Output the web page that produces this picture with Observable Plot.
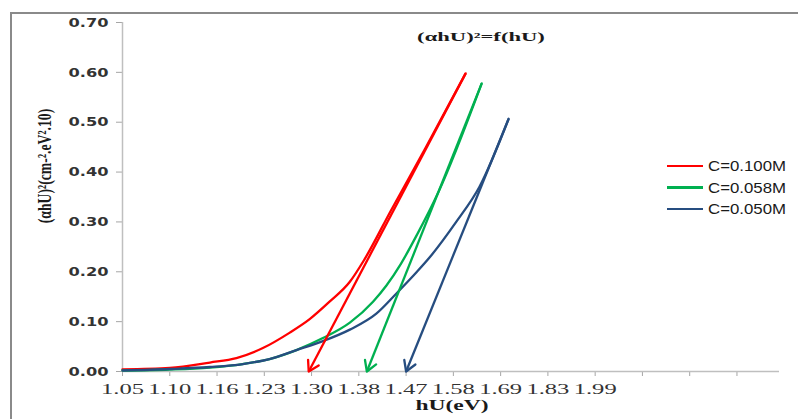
<!DOCTYPE html>
<html><head><meta charset="utf-8">
<script src="https://cdn.jsdelivr.net/npm/d3@7"></script>
<script src="https://cdn.jsdelivr.net/npm/@observablehq/plot@0.6"></script>
<style>
html,body{margin:0;padding:0;background:#fff;overflow:hidden;}
#wrap{position:relative;width:798px;height:419px;overflow:hidden;}
#frame{position:absolute;left:10px;top:12px;width:820px;height:440px;border:2px solid #8a8a8a;box-sizing:border-box;pointer-events:none;}
.ov{position:absolute;white-space:nowrap;line-height:1;display:inline-block;}
.serifb{font-family:"Liberation Serif","Times New Roman",serif;font-weight:bold;color:#1a1a1a;}
.leg{font-family:"Liberation Sans",Arial,sans-serif;font-size:14px;color:#1a1a1a;transform-origin:left center;}
.sw{position:absolute;height:2.5px;width:36px;}
</style></head><body>
<div id="wrap">
  <div id="chart"></div>
  <div id="frame"></div>
  <div id="title" class="ov serifb" style="font-size:13px;left:481px;top:29.5px;"></div>
  <div id="xlab" class="ov serifb" style="font-size:14.5px;left:451.5px;top:397.5px;"></div>
  <div id="ylab" class="ov serifb" style="font-size:13.5px;left:45px;top:166px;"></div>
  <div id="legend"></div>
</div>
<script>
// ---- chart data (x positions in category steps along the hU axis) ----
const titleText = "(αhU)²=f(hU)";
const xTitle = "hU(eV)";
const yTitle = "(αhU)²(cm-².eV².10)";
const xTickLabels = ["1.05","1.10","1.16","1.23","1.30","1.38","1.47","1.58","1.69","1.83","1.99","","",""];
const yTickValues = [0, 0.1, 0.2, 0.3, 0.4, 0.5, 0.6, 0.7];

const seriesNames = ["C=0.100M", "C=0.058M", "C=0.050M"];
const seriesColors = ["#ff0000", "#00b050", "#264d80"];

const redPos   = [0, 1, 1.85, 2.41, 2.97, 3.54, 3.96, 4.38, 4.81, 5.12, 5.68, 6.41, 7.26];
const redVal   = [0.004, 0.007, 0.018, 0.027, 0.047, 0.078, 0.105, 0.14, 0.18, 0.225, 0.323, 0.448, 0.598];
const greenPos = [0, 1, 1.85, 2.54, 3.11, 3.68, 4.24, 4.81, 5.30, 5.58, 5.89, 6.24, 6.67, 7.6];
const greenVal = [0.002, 0.004, 0.008, 0.015, 0.025, 0.043, 0.067, 0.098, 0.14, 0.172, 0.216, 0.276, 0.357, 0.578];
const bluePos  = [0, 1, 1.85, 2.55, 3.11, 3.68, 4.24, 4.81, 5.37, 5.79, 6.22, 6.5, 7.06, 7.55, 8.17];
const blueVal  = [0.002, 0.005, 0.009, 0.015, 0.025, 0.043, 0.061, 0.084, 0.116, 0.156, 0.199, 0.229, 0.30, 0.37, 0.507];

// tangent (extrapolation) arrows: from top of curve down to the x axis
const tanTopPos = [7.26, 7.6, 8.17];
const tanTopVal = [0.598, 0.578, 0.507];
const tanTipPos = [3.94, 5.17, 6.0];
const tanTipVal = [0, 0, 0];

// ---- build tables ----
const seriesPos = [redPos, greenPos, bluePos];
const seriesVal = [redVal, greenVal, blueVal];
const pts = seriesNames.flatMap((n, s) => seriesPos[s].map((p, i) => ({name: n, x: p, y: seriesVal[s][i]})));
const arrows = seriesNames.map((n, i) => ({name: n, x1: tanTopPos[i], y1: tanTopVal[i], x2: tanTipPos[i], y2: tanTipVal[i]}));

const chart = Plot.plot({
  width: 798, height: 419,
  marginLeft: 122, marginRight: 19, marginTop: 22, marginBottom: 48,
  style: {background: "white", color: "#a6a6a6", fontFamily: "DejaVu Sans", fontSize: "13px"},
  x: {domain: [0, 13.9], ticks: d3.range(xTickLabels.length), tickFormat: i => xTickLabels[i], tickSize: 5, tickPadding: 7, label: null},
  y: {domain: [0, 0.7], ticks: yTickValues, tickFormat: d => d.toFixed(2), tickSize: 6, tickPadding: 8, label: null},
  color: {domain: seriesNames, range: seriesColors},
  marks: [
    Plot.ruleX([0], {stroke: "#bfbfbf", strokeWidth: 1.5}),
    Plot.ruleY([0], {stroke: "#bfbfbf", strokeWidth: 1.5}),
    Plot.line(pts, {x: "x", y: "y", z: "name", stroke: "name", strokeWidth: 2.3, curve: "monotone-x"}),
    Plot.link(arrows, {x1: "x1", y1: "y1", x2: "x2", y2: "y2", stroke: "name", strokeWidth: 2.3})
  ]
});
document.getElementById("chart").append(chart);

// open V arrowheads at the lower end of each tangent
const NS = "http://www.w3.org/2000/svg";
const defs = document.createElementNS(NS, "defs");
seriesColors.forEach((c, i) => {
  const m = document.createElementNS(NS, "marker");
  m.setAttribute("id", "ahead" + i);
  m.setAttribute("viewBox", "-12 -8 14 16");
  m.setAttribute("refX", "0");
  m.setAttribute("refY", "0");
  m.setAttribute("markerUnits", "userSpaceOnUse");
  m.setAttribute("markerWidth", "14");
  m.setAttribute("markerHeight", "16");
  m.setAttribute("orient", "auto");
  const p = document.createElementNS(NS, "path");
  p.setAttribute("d", "M-10,-6L0,0L-10,6");
  p.setAttribute("fill", "none");
  p.setAttribute("stroke", c);
  p.setAttribute("stroke-width", "2.3");
  p.setAttribute("stroke-linejoin", "round");
  p.setAttribute("stroke-linecap", "round");
  m.append(p);
  defs.append(m);
});
chart.prepend(defs);
chart.querySelectorAll('g[aria-label="link"] path').forEach((p, k) => {
  let i = seriesColors.indexOf((p.getAttribute("stroke") || "").toLowerCase());
  if (i < 0) i = k;
  p.setAttribute("marker-end", `url(#ahead${i})`);
});

// stretch tick labels like the reference
function stretchText(sel, family, size, weight, target) {
  chart.querySelectorAll(sel).forEach(t => {
    t.style.fontFamily = family;
    t.style.fontSize = size;
    t.style.fontWeight = weight;
    t.style.fill = "#333";
    t.style.stroke = "none";
    if (t.textContent.trim() !== "") {
      t.setAttribute("textLength", target);
      t.setAttribute("lengthAdjust", "spacingAndGlyphs");
    }
  });
}
stretchText('g[aria-label^="x-axis"] text', '"Liberation Serif", serif', "15px", "normal", 43);
stretchText('g[aria-label^="y-axis"] text', '"DejaVu Sans", sans-serif', "13px", "bold", 40);

// overlay texts
function fitCenter(id, text, target) {
  const el = document.getElementById(id);
  el.textContent = text;
  const w = el.offsetWidth;
  el.style.transform = `translateX(-50%) scaleX(${target / w})`;
}
fitCenter("title", titleText, 127);
fitCenter("xlab", xTitle, 73);
{
  const el = document.getElementById("ylab");
  el.textContent = yTitle;
  const w = el.offsetWidth;
  el.style.transform = `translate(-50%,-50%) rotate(-90deg) scale(${115 / w}, 1.45)`;
}
const legend = document.getElementById("legend");
const rowY = [166, 187.5, 209];
seriesNames.forEach((n, i) => {
  const sw = document.createElement("div");
  sw.className = "sw";
  sw.style.left = "667px";
  sw.style.top = (rowY[i] - 1.25) + "px";
  sw.style.background = seriesColors[i];
  legend.append(sw);
  const tx = document.createElement("div");
  tx.className = "ov leg";
  tx.textContent = n;
  tx.style.left = "708px";
  tx.style.top = (rowY[i] - 7) + "px";
  legend.append(tx);
  const w = tx.offsetWidth;
  tx.style.transform = `scaleX(${78 / w})`;
});
</script>
</body></html>
